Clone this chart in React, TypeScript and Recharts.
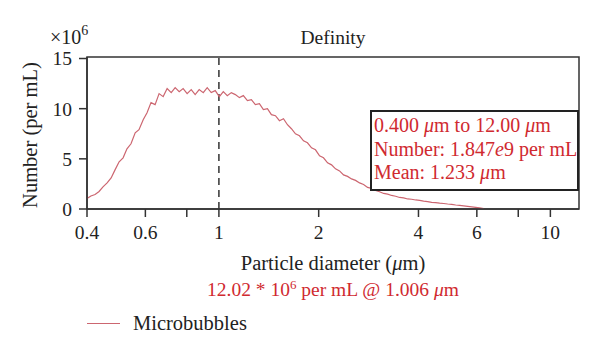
import React from 'react';
import { LineChart, Line, XAxis, YAxis, ReferenceLine, ReferenceArea } from 'recharts';

const diameters = [
  0.400, 0.411, 0.423, 0.435, 0.447, 0.460, 0.473, 0.486, 0.500, 0.514,
  0.528, 0.543, 0.559, 0.574, 0.591, 0.607, 0.624, 0.642, 0.660, 0.679,
  0.698, 0.718, 0.738, 0.759, 0.780, 0.802, 0.825, 0.848, 0.872, 0.897,
  0.922, 0.948, 0.975, 1.003, 1.031, 1.060, 1.090, 1.121, 1.153, 1.185,
  1.219, 1.253, 1.288, 1.325, 1.362, 1.401, 1.440, 1.481, 1.523, 1.566,
  1.610, 1.655, 1.702, 1.750, 1.800, 1.850, 1.903, 1.956, 2.012, 2.068,
  2.127, 2.187, 2.248, 2.312, 2.377, 2.444, 2.513, 2.584, 2.657, 2.732,
  2.809, 2.888, 2.970, 3.053, 3.140, 3.228, 3.319, 3.413, 3.509, 3.608,
  3.710, 3.814, 3.922, 4.033, 4.146, 4.263, 4.384, 4.507, 4.634, 4.765,
  4.900, 5.038, 5.180, 5.326, 5.477, 5.631, 5.790, 5.953, 6.121, 6.294,
];

const numbers = [
  1.05, 1.3, 1.45, 1.75, 2.2, 2.6, 3.1, 3.9, 4.7, 5.1,
  6.0, 6.5, 7.6, 7.9, 8.9, 9.6, 10.6, 10.4, 11.5, 11.2,
  12.0, 11.6, 12.1, 11.7, 12.0, 11.5, 11.9, 11.4, 11.9, 11.6,
  12.1, 11.6, 11.8, 11.2, 11.7, 11.3, 11.6, 11.4, 11.1, 11.3,
  10.8, 10.9, 10.4, 10.5, 9.9, 10.0, 9.4, 9.3, 8.8, 9.0,
  8.4, 8.0, 7.5, 7.3, 6.8, 6.6, 6.1, 5.9, 5.3, 5.1,
  4.6, 4.4, 4.0, 3.8, 3.4, 3.25, 3.0, 2.85, 2.6, 2.45,
  2.15, 2.05, 1.85, 1.72, 1.55, 1.48, 1.35, 1.27, 1.15, 1.1,
  1.0, 0.97, 0.9, 0.86, 0.78, 0.74, 0.66, 0.63, 0.58, 0.55,
  0.5, 0.46, 0.4, 0.36, 0.32, 0.27, 0.22, 0.17, 0.11, 0.05,
];

const xTicks = [0.4, 0.6, 0.8, 1, 2, 4, 6, 8, 10];
const xLabelled = [0.4, 0.6, 1, 2, 4, 6, 10];
const yTicks = [0, 5, 10, 15];
const xDomain = [0.4, 12.2];
const yDomain = [0, 15.15];

const data = diameters.map((d, i) => ({ d, n: numbers[i] }));

const FONT = '"Liberation Serif", "Times New Roman", serif';
const RED = '#d02a30';
const LINE = '#cc6670';
const INK = '#222';

export default function App() {
  return (
    <div style={{ position: 'absolute', left: 0, top: 0, width: 600, height: 356, background: '#fff', fontFamily: FONT }}>
      <LineChart width={600} height={356} data={data} margin={{ top: 57, right: 21, bottom: 117, left: 37 }}>
        <XAxis
          dataKey="d"
          type="number"
          scale="log"
          domain={xDomain}
          allowDataOverflow
          ticks={xTicks}
          interval={0}
          height={30}
          tickSize={8}
          tickMargin={8}
          tickFormatter={(v: number) => (xLabelled.includes(v) ? String(v) : '')}
          tick={{ fill: INK, fontSize: 19.5, fontFamily: FONT }}
          axisLine={{ stroke: '#333', strokeWidth: 1.5 }}
          tickLine={{ stroke: '#333', strokeWidth: 1.5 }}
        />
        <YAxis
          type="number"
          domain={yDomain}
          allowDataOverflow
          ticks={yTicks}
          interval={0}
          width={50}
          tickSize={8}
          tickMargin={7}
          tick={{ fill: INK, fontSize: 19.5, fontFamily: FONT }}
          axisLine={{ stroke: '#333', strokeWidth: 1.5 }}
          tickLine={{ stroke: '#333', strokeWidth: 1.5 }}
        />
        <ReferenceArea x1={xDomain[0]} x2={xDomain[1]} y1={yDomain[0]} y2={yDomain[1]} fill="none" stroke="#333" strokeWidth={1.5} ifOverflow="visible" />
        <ReferenceLine x={1} stroke="#333" strokeWidth={1.5} strokeDasharray="7 5" />
        <Line type="linear" dataKey="n" stroke={LINE} strokeWidth={1.2} dot={false} isAnimationActive={false} />
      </LineChart>

      <div style={{ position: 'absolute', left: 233, width: 200, top: 26, textAlign: 'center', fontSize: 19.5, color: INK, lineHeight: '24px' }}>Definity</div>
      <div style={{ position: 'absolute', left: 50, top: 25, fontSize: 20, color: INK, lineHeight: '24px' }}>
        ×10<sup style={{ fontSize: 14, verticalAlign: 'top', position: 'relative', top: -6 }}>6</sup>
      </div>
      <div style={{ position: 'absolute', left: 30, top: 135, width: 0, height: 0 }}>
        <div style={{ position: 'absolute', left: -100, top: -12, width: 200, textAlign: 'center', transform: 'rotate(-90deg)', fontSize: 20.5, color: INK, lineHeight: '24px', whiteSpace: 'nowrap' }}>
          Number (per mL)
        </div>
      </div>

      <div style={{ position: 'absolute', left: 370, top: 110, width: 203, height: 75, border: '2px solid #222', background: '#fff', color: RED, fontSize: 20, lineHeight: '23.5px', paddingLeft: 2, paddingTop: 2, whiteSpace: 'nowrap', boxSizing: 'content-box' }}>
        <div>0.400 <i>μ</i>m to 12.00 <i>μ</i>m</div>
        <div>Number: 1.847<i>e</i>9 per mL</div>
        <div>Mean: 1.233 <i>μ</i>m</div>
      </div>

      <div style={{ position: 'absolute', left: 133, width: 400, top: 251, textAlign: 'center', fontSize: 20.5, color: INK, lineHeight: '24px' }}>
        Particle diameter (<i>μ</i>m)
      </div>
      <div style={{ position: 'absolute', left: 133, width: 400, top: 278, textAlign: 'center', fontSize: 19.5, color: RED, lineHeight: '24px' }}>
        12.02 * 10<sup style={{ fontSize: 13, verticalAlign: 'top', position: 'relative', top: -5 }}>6</sup> per mL @ 1.006 <i>μ</i>m
      </div>

      <div style={{ position: 'absolute', left: 87, top: 311, display: 'flex', alignItems: 'center', fontSize: 20.5, color: INK, lineHeight: '24px' }}>
        <div style={{ width: 33, height: 0, borderTop: `1.5px solid ${LINE}`, marginRight: 13 }} />
        <span>Microbubbles</span>
      </div>
    </div>
  );
}
